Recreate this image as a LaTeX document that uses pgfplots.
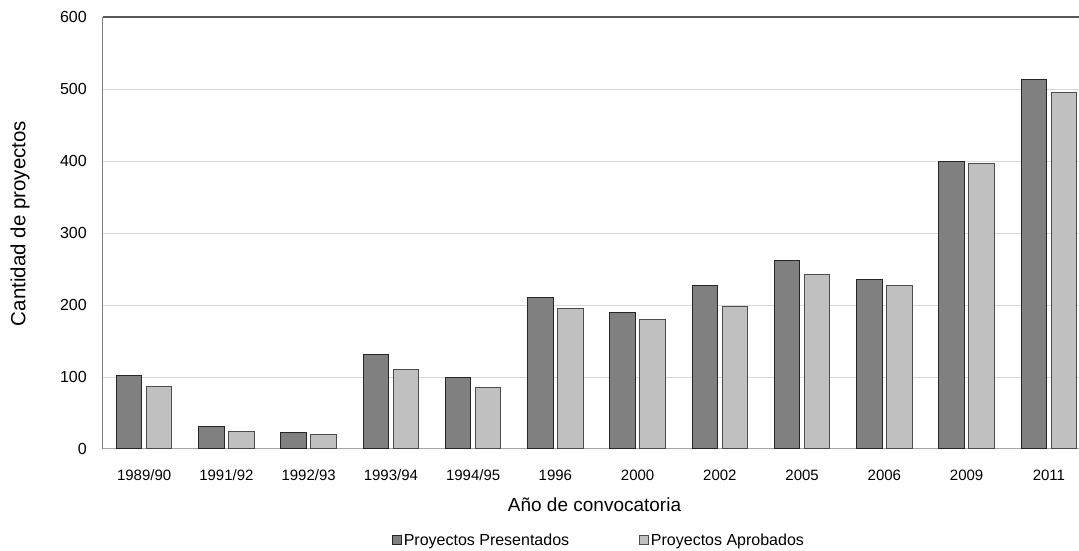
\documentclass[border=0pt]{standalone}
\usepackage{pgfplots}
\pgfplotsset{compat=1.18}
\usepackage{fontspec}
\setmainfont{Liberation Sans}
\definecolor{presC}{HTML}{808080}
\definecolor{aprC}{HTML}{C0C0C0}
\definecolor{gridC}{HTML}{D9D9D9}
\begin{document}
\begin{tikzpicture}
\useasboundingbox (-103pt,-102pt) rectangle (976pt,449pt);
\begin{axis}[
  at={(0pt,0pt)}, anchor=south west,
  scale only axis,
  width=987pt, height=432pt,
  xmin=-0.5, xmax=11.5,
  ymin=0, ymax=600,
  ytick={0,100,...,600},
  xtick={0,...,11},
  xticklabels={1989/90,1991/92,1992/93,1993/94,1994/95,1996,2000,2002,2005,2006,2009,2011},
  major tick length=0pt,
  axis x line*=bottom,
  axis y line*=left,
  x axis line style={color=black!35, line width=1pt, -},
  y axis line style={color=black!50, line width=1pt, -},
  ymajorgrids,
  grid style={color=gridC, line width=1pt},
  extra y ticks={600},
  extra y tick labels={},
  extra y tick style={grid style={color=black!65, line width=1.3pt}},
  /pgf/number format/assume math mode=true,
  yticklabel style={anchor=east, inner sep=0pt, xshift=-16pt, font=\fontsize{16}{18}\selectfont},
  xticklabel style={anchor=base, inner sep=0pt, yshift=-31pt, font=\fontsize{15}{17}\selectfont},
  ylabel={Cantidad de proyectos},
  xlabel={Año de convocatoria},
  every axis y label/.style={at={(axis description cs:-0.084,0.522)}, rotate=90, anchor=center, font=\fontsize{20.5}{23}\selectfont},
  every axis x label/.style={at={(axis description cs:0.498,-0.13)}, anchor=center, font=\fontsize{19}{22}\selectfont},
  ybar=4.5pt,
  bar width=25.5pt,
  legend columns=2,
  legend style={at={(axis description cs:0.5025,-0.2106)}, anchor=center, draw=none, fill=none,
    font=\fontsize{16}{18}\selectfont,
    /tikz/every even column/.append style={column sep=68pt}},
  legend image code/.code={\draw[#1, line width=0.8pt] (0pt,-4.5pt) rectangle (9pt,4.5pt);},
]
\addplot[fill=presC, draw=black!85, line width=1pt] coordinates {
 (0,102) (1,31) (2,23) (3,131) (4,100) (5,211) (6,190) (7,227) (8,262) (9,235) (10,400) (11,513)};
\addplot[fill=aprC, draw=black!70, line width=1pt] coordinates {
 (0,87) (1,25) (2,20) (3,111) (4,85) (5,195) (6,180) (7,198) (8,242) (9,227) (10,397) (11,495)};
\legend{Proyectos Presentados, Proyectos Aprobados}
\end{axis}
\end{tikzpicture}
\end{document}
